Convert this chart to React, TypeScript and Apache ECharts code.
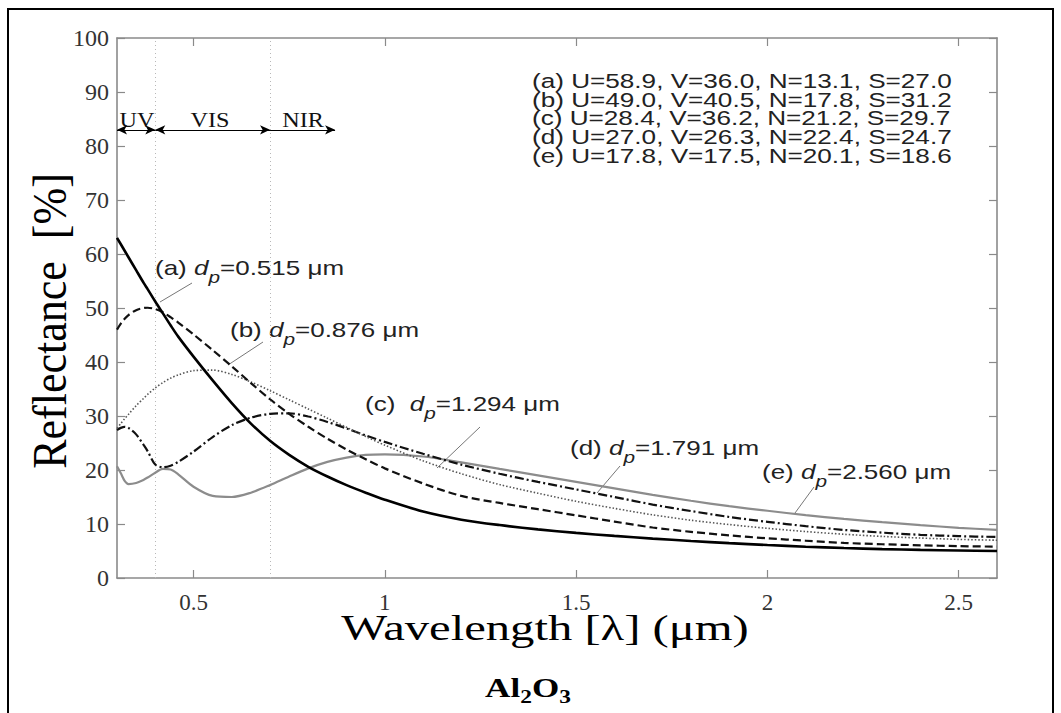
import React, { useEffect, useRef } from "react";
import * as echarts from "echarts";

// wavelength grid (µm)
const wavelength = [0.30, 0.31, 0.32, 0.33, 0.35, 0.37, 0.38, 0.40, 0.42, 0.44, 0.46, 0.50, 0.55, 0.60, 0.65, 0.70, 0.75, 0.80, 0.85, 0.90, 0.95, 1.00, 1.10, 1.20, 1.30, 1.40, 1.50, 1.60, 1.70, 1.80, 1.90, 2.00, 2.10, 2.20, 2.30, 2.40, 2.50, 2.60];

// reflectance (%) for each particle size
const reflA = [63.0, 61.8, 60.6, 59.4, 57.0, 54.6, 53.5, 51.2, 49.0, 46.8, 44.7, 41.0, 36.6, 32.4, 28.6, 25.4, 22.8, 20.6, 18.8, 17.2, 15.8, 14.5, 12.3, 10.8, 9.8, 9.0, 8.35, 7.8, 7.3, 6.85, 6.45, 6.1, 5.8, 5.55, 5.35, 5.2, 5.1, 5.0];
const reflB = [46.0, 47.1, 48.0, 48.7, 49.6, 50.0, 50.05, 49.8, 49.2, 48.3, 47.3, 45.1, 42.2, 39.2, 36.1, 33.1, 30.4, 28.0, 25.8, 23.8, 22.0, 20.3, 17.5, 15.2, 13.9, 12.75, 11.6, 10.45, 9.35, 8.55, 7.9, 7.35, 6.9, 6.5, 6.25, 6.05, 5.9, 5.8];
const reflC = [27.7, 28.6, 29.5, 30.3, 31.9, 33.3, 34.0, 35.2, 36.2, 37.0, 37.6, 38.4, 38.5, 37.7, 36.3, 34.7, 33.0, 31.3, 29.6, 27.9, 26.2, 24.6, 21.7, 19.3, 17.3, 15.7, 14.2, 12.9, 11.7, 10.7, 9.9, 9.2, 8.6, 8.1, 7.7, 7.4, 7.15, 7.0];
const reflD = [27.4, 27.8, 28.0, 27.8, 26.6, 24.6, 23.5, 21.0, 20.5, 20.8, 21.5, 23.4, 26.1, 28.3, 29.7, 30.4, 30.5, 29.9, 28.9, 27.7, 26.4, 25.2, 23.0, 21.0, 19.3, 17.8, 16.4, 15.0, 13.6, 12.4, 11.3, 10.4, 9.6, 8.9, 8.4, 8.0, 7.75, 7.6];
const reflE = [20.7, 19.4, 18.0, 17.4, 17.6, 18.2, 18.6, 19.5, 20.2, 20.1, 19.2, 16.9, 15.2, 15.0, 15.8, 17.2, 18.8, 20.3, 21.5, 22.3, 22.8, 22.9, 22.5, 21.4, 20.2, 19.0, 17.8, 16.6, 15.4, 14.3, 13.3, 12.45, 11.65, 10.95, 10.35, 9.8, 9.3, 8.9];

const curveIds = ["(a)", "(b)", "(c)", "(d)", "(e)"];
const particleSizes = ["0.515", "0.876", "1.294", "1.791", "2.560"];
const legendLines = [
  "(a) U=58.9, V=36.0, N=13.1, S=27.0",
  "(b) U=49.0, V=40.5, N=17.8, S=31.2",
  "(c) U=28.4, V=36.2, N=21.2, S=29.7",
  "(d) U=27.0, V=26.3, N=22.4, S=24.7",
  "(e) U=17.8, V=17.5, N=20.1, S=18.6",
];
const xTicks = [0.5, 1, 1.5, 2, 2.5];
const bandLimits = [0.4, 0.7];
const bandNames = ["UV", "VIS", "NIR"];
const bandArrowY = 83;
const bandArrowEnd = 0.87;

const SERIF = "'Liberation Serif', 'Times New Roman', serif";
const SANS = "'Liberation Sans', Arial, sans-serif";
const AXIS_GRAY = "#8a8a8a";

export default function App() {
  const ref = useRef<HTMLDivElement>(null);

  useEffect(() => {
    document.body.style.margin = "0";
    const chart = echarts.init(ref.current!, null, { renderer: "svg" });

    const toPairs = (ys: number[]) => wavelength.map((x, i) => [x, ys[i]]);

    const styles = [
      { color: "#000", width: 2.6, type: "solid" as any },
      { color: "#111", width: 2.2, type: [8, 4] as any },
      { color: "#555", width: 1.6, type: [1.5, 2] as any },
      { color: "#111", width: 2.2, type: [9, 3, 2, 3] as any },
      { color: "#8c8c8c", width: 2.2, type: "solid" as any },
    ];
    const allData = [reflA, reflB, reflC, reflD, reflE];

    const series: any[] = allData.map((ys, i) => ({
      type: "line",
      name: curveIds[i],
      data: toPairs(ys),
      showSymbol: false,
      symbol: "none",
      smooth: 0.3,
      lineStyle: styles[i],
      z: 5 - i,
    }));

    // vertical band separators (dotted)
    series[4].markLine = {
      silent: true,
      symbol: ["none", "none"],
      label: { show: false },
      lineStyle: { color: "#b8b8b8", type: [1, 3], width: 1 },
      data: bandLimits.map((v) => ({ xAxis: v })),
      z: 1,
    };

    // band arrows
    const bandStarts = [0.3, bandLimits[0], bandLimits[1]];
    const bandEnds = [bandLimits[0], bandLimits[1], bandArrowEnd];
    series[0].markLine = {
      silent: true,
      symbol: ["arrow", "arrow"],
      symbolSize: [7, 10],
      label: { show: false },
      lineStyle: { color: "#000", type: "solid", width: 1 },
      data: bandStarts.map((s, i) => [
        { coord: [s, bandArrowY], symbol: i === 2 ? "none" : "arrow" },
        { coord: [bandEnds[i], bandArrowY], symbol: "arrow" },
      ]),
    };

    const annPos = [
      { x: 155, y: 268, lx1: 192, ly1: 283, lx2: 160, ly2: 302, gap: " " },
      { x: 230, y: 330, lx1: 263, ly1: 342, lx2: 228, ly2: 365, gap: " " },
      { x: 365, y: 404, lx1: 480, ly1: 427, lx2: 437, ly2: 468, gap: "  " },
      { x: 570, y: 448, lx1: 620, ly1: 466, lx2: 597, ly2: 493, gap: " " },
      { x: 762, y: 472, lx1: 814, ly1: 487, lx2: 795, ly2: 513, gap: " " },
    ];

    const rich = {
      n: { fontSize: 20, fontFamily: SANS, fill: "#222", lineHeight: 34 },
      i: { fontSize: 20, fontFamily: SANS, fontStyle: "italic", fill: "#222", lineHeight: 34 },
      s: { fontSize: 16, fontFamily: SANS, fontStyle: "italic", fill: "#222", lineHeight: 14, verticalAlign: "bottom" },
    };

    const graphics: any[] = [
      {
        type: "rect",
        shape: { x: 8, y: 9, width: 1045, height: 730 },
        style: { fill: "none", stroke: "#000", lineWidth: 2 },
        silent: true,
      },
    ];

    annPos.forEach((p, i) => {
      graphics.push({
        type: "line",
        shape: { x1: p.lx1, y1: p.ly1, x2: p.lx2, y2: p.ly2 },
        style: { stroke: "#777", lineWidth: 1 },
        silent: true,
      });
      graphics.push({
        type: "text",
        x: p.x,
        y: p.y,
        scaleX: 1.3,
        style: {
          text: `{n|${curveIds[i]}${p.gap}}{i|d}{s|p}{n|=${particleSizes[i]} μm}`,
          rich,
          align: "left",
          verticalAlign: "middle",
        },
        silent: true,
      });
    });

    legendLines.forEach((t, i) => {
      graphics.push({
        type: "text",
        x: 532,
        y: 81 + i * 18.8,
        scaleX: 1.34,
        style: {
          text: t,
          fontFamily: SANS,
          fontSize: 19.5,
          fill: "#222",
          align: "left",
          verticalAlign: "middle",
        },
        silent: true,
      });
    });

    const bandLabelX = [137, 210, 303];
    bandNames.forEach((t, i) => {
      graphics.push({
        type: "text",
        x: bandLabelX[i],
        y: 119,
        scaleX: 1.1,
        style: {
          text: t,
          fontFamily: SERIF,
          fontSize: 22,
          fill: "#111",
          align: "center",
          verticalAlign: "middle",
        },
        silent: true,
      });
    });

    graphics.push({
      type: "text",
      x: 50,
      y: 321,
      rotation: Math.PI / 2,
      scaleY: 1.1,
      style: {
        text: "Reflectance  [%]",
        fontFamily: SERIF,
        fontSize: 44,
        fill: "#000",
        align: "center",
        verticalAlign: "middle",
      },
      silent: true,
    });

    graphics.push({
      type: "text",
      x: 545,
      y: 628,
      scaleX: 1.39,
      style: {
        text: "Wavelength [λ] (μm)",
        fontFamily: SERIF,
        fontSize: 35,
        fill: "#000",
        align: "center",
        verticalAlign: "middle",
      },
      silent: true,
    });

    graphics.push({
      type: "text",
      x: 528,
      y: 688,
      scaleX: 1.3,
      style: {
        text: "{b|Al}{s|2}{b|O}{s|3}",
        rich: {
          b: { fontSize: 27, fontFamily: SERIF, fontWeight: "bold", fill: "#000", lineHeight: 36 },
          s: { fontSize: 18, fontFamily: SERIF, fontWeight: "bold", fill: "#000", lineHeight: 16, verticalAlign: "bottom" },
        },
        align: "center",
        verticalAlign: "middle",
      },
      silent: true,
    });

    const axisCommon = {
      axisLine: { show: true, onZero: false, lineStyle: { color: AXIS_GRAY, width: 1.6 } },
      axisTick: { show: true, inside: true, length: 8, lineStyle: { color: AXIS_GRAY, width: 1.2 } },
      splitLine: { show: false },
    };

    chart.setOption({
      animation: false,
      backgroundColor: "#fff",
      grid: { left: 117, top: 38, width: 880, height: 540 },
      xAxis: [
        {
          type: "value",
          min: 0.3,
          max: 2.6,
          position: "bottom",
          ...axisCommon,
          axisTick: { ...axisCommon.axisTick, customValues: xTicks },
          axisLabel: {
            customValues: xTicks,
            margin: 13,
            fontFamily: SERIF,
            fontSize: 23,
            color: "#333",
          },
        },
        {
          type: "value",
          min: 0.3,
          max: 2.6,
          position: "top",
          ...axisCommon,
          axisTick: { ...axisCommon.axisTick, customValues: xTicks },
          axisLabel: { show: false, customValues: xTicks },
        },
      ],
      yAxis: [
        {
          type: "value",
          min: 0,
          max: 100,
          interval: 10,
          position: "left",
          ...axisCommon,
          axisLabel: {
            margin: 8,
            fontFamily: SERIF,
            fontSize: 24,
            color: "#333",
          },
        },
        {
          type: "value",
          min: 0,
          max: 100,
          interval: 10,
          position: "right",
          ...axisCommon,
          axisLabel: { show: false },
        },
      ],
      series,
      graphic: graphics,
    });

    return () => chart.dispose();
  }, []);

  return <div ref={ref} style={{ width: 1061, height: 713, background: "#fff" }} />;
}
